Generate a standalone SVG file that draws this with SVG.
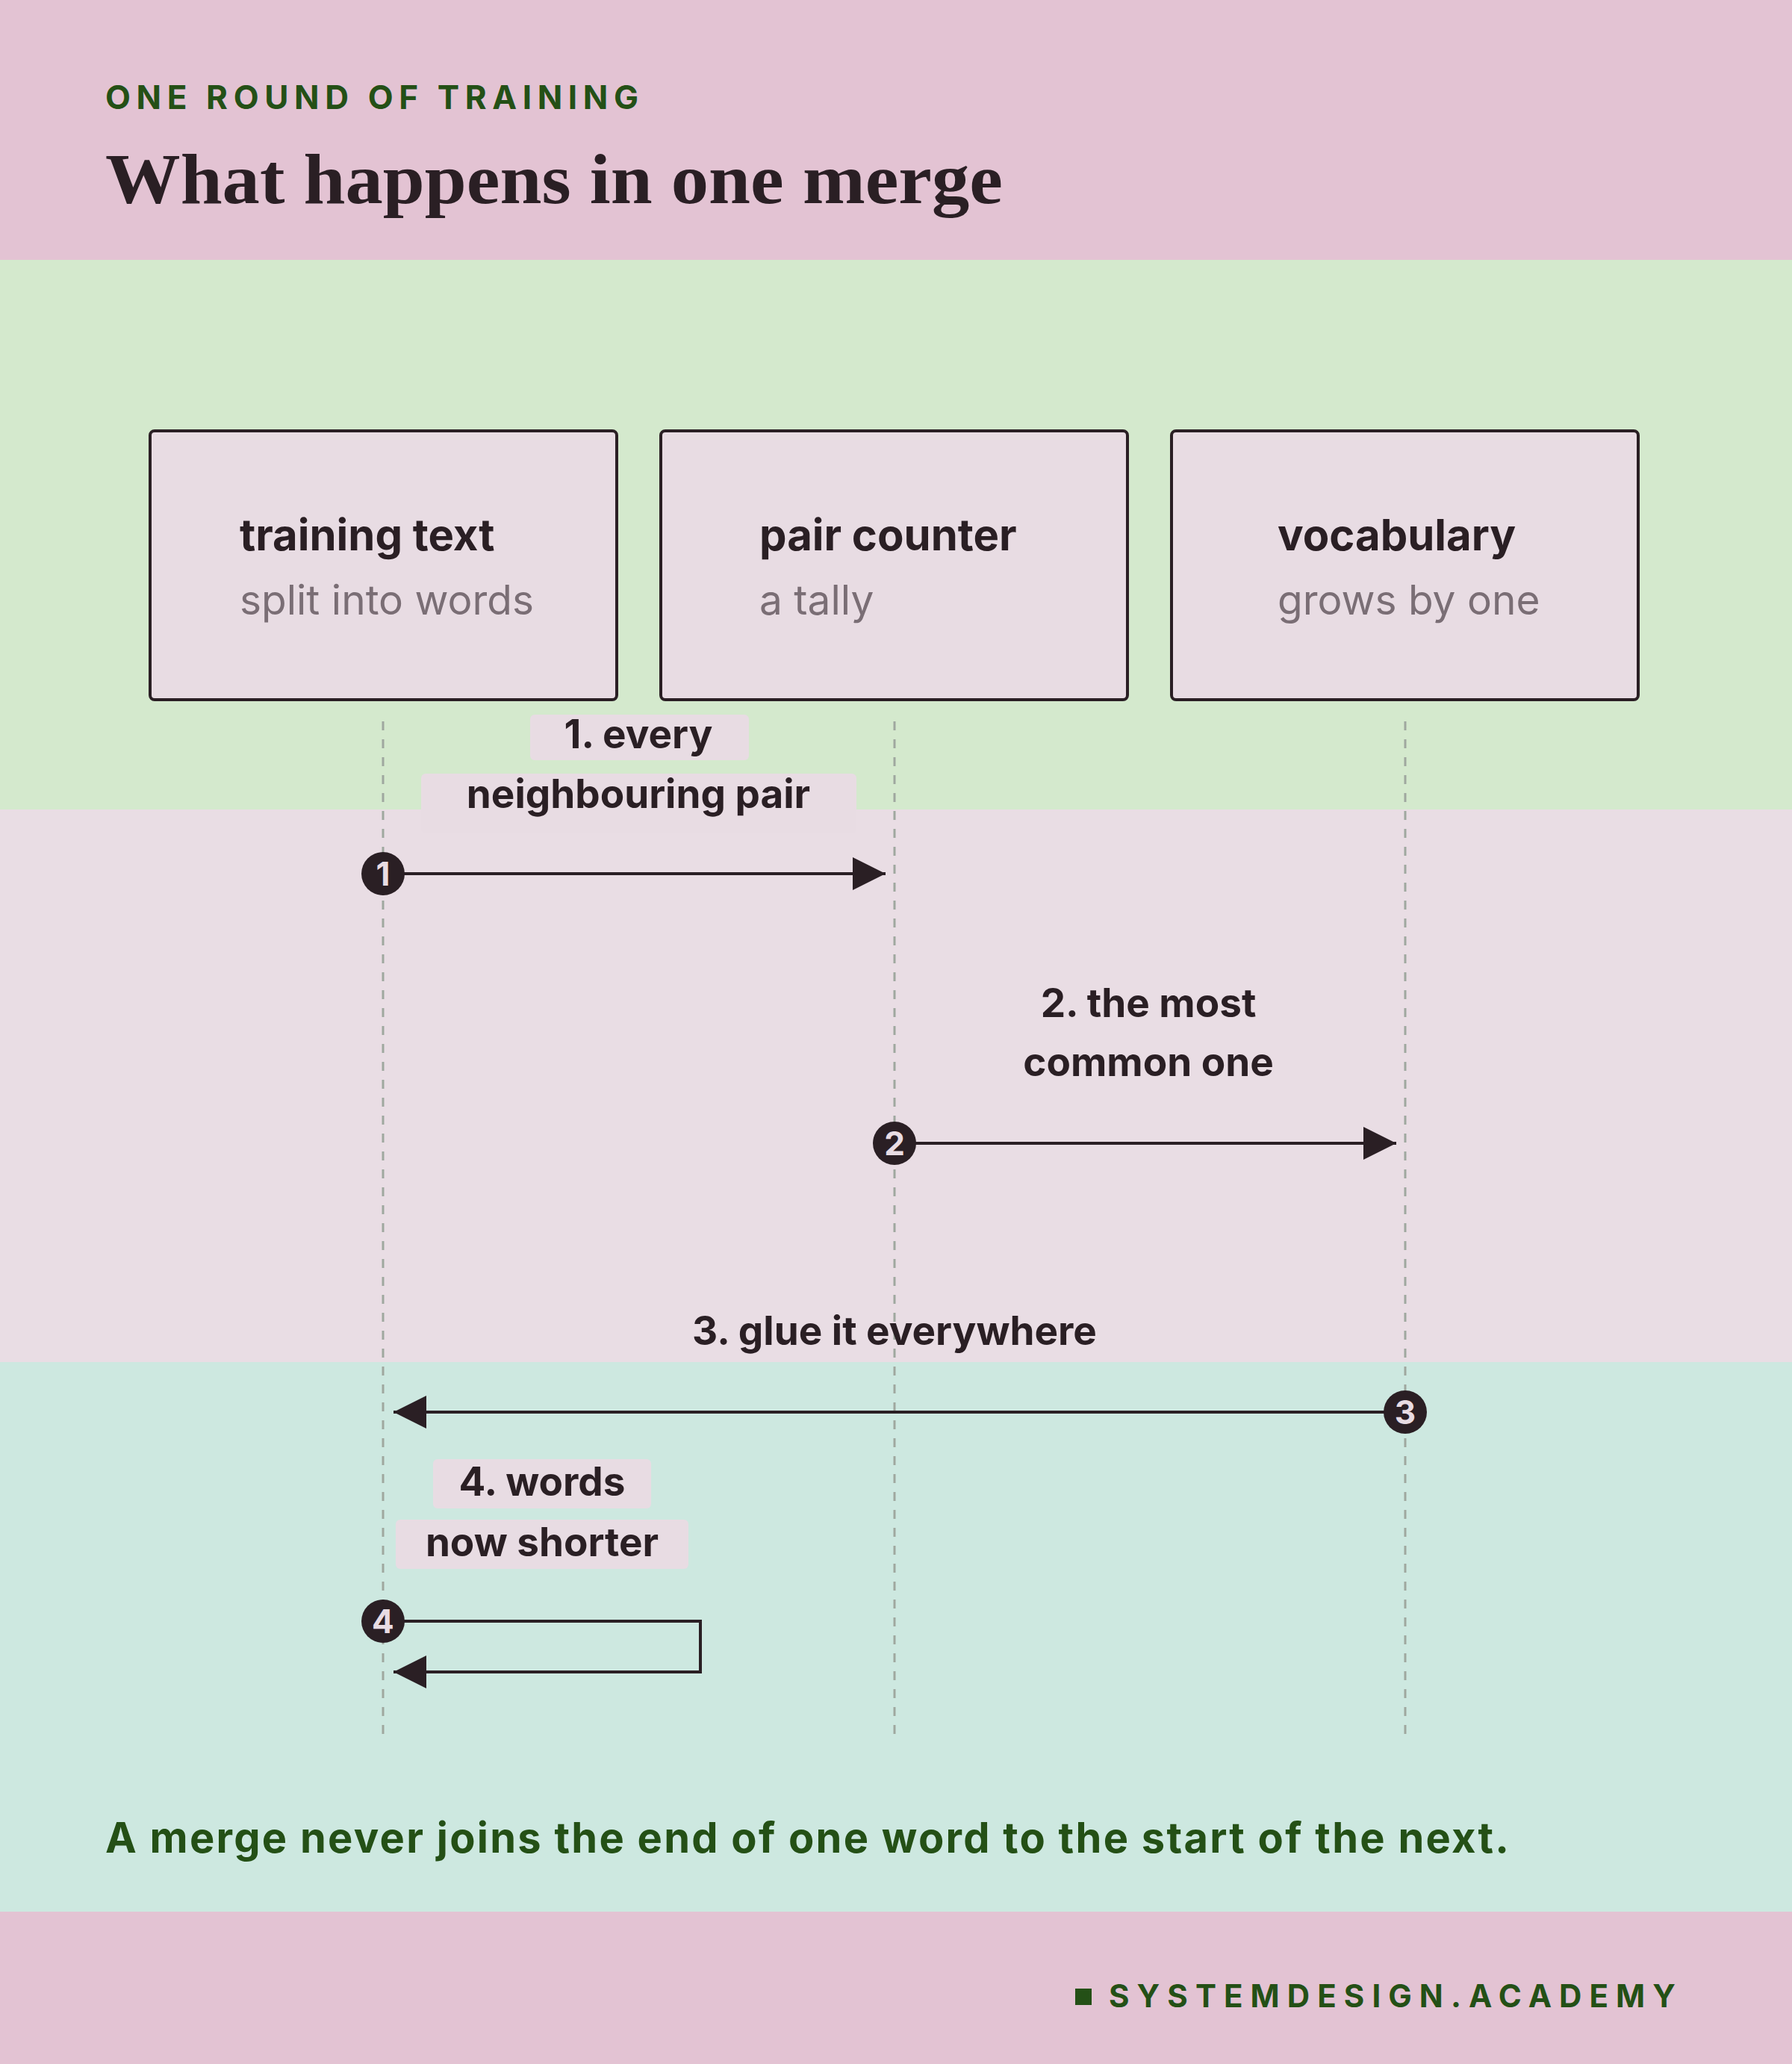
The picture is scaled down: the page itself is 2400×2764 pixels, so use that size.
<svg xmlns="http://www.w3.org/2000/svg" width="2400" height="2764" viewBox="0 0 2400 2764">
<style>
.t{font-family:Inter,"Liberation Sans",sans-serif;fill:#2a1f24}
.nt{font-weight:700;font-size:58px}
.ns{font-size:55px;fill:#7a6e75}
.lb{font-weight:700;font-size:53px;text-anchor:middle}
.box{fill:#e8dce3;stroke:#2a1f24;stroke-width:4}
.life{stroke:#9fa89f;stroke-width:3;stroke-dasharray:12 12;fill:none}
.msg{stroke:#2a1f24;stroke-width:4;fill:none}
.lbg{fill:#e8dce3}
.num{font-family:Inter,"Liberation Sans",sans-serif;font-weight:700;font-size:44px;fill:#e8dce3;text-anchor:middle}
</style>
<defs>
<marker id="ah" viewBox="0 0 10 10" refX="10" refY="5" markerWidth="11" markerHeight="11" markerUnits="userSpaceOnUse" orient="auto">
<path d="M0,0 L10,5 L0,10 z" fill="#2a1f24"/>
</marker>
<marker id="ah2" viewBox="0 0 10 10" refX="10" refY="5" markerWidth="44" markerHeight="44" markerUnits="userSpaceOnUse" orient="auto">
<path d="M0,0 L10,5 L0,10 z" fill="#2a1f24"/>
</marker>
</defs>
<rect x="0" y="0" width="2400" height="348" fill="#e3c3d3"/>
<rect x="0" y="348" width="2400" height="736" fill="#d4e9cd"/>
<rect x="0" y="1084" width="2400" height="740" fill="#e9dde4"/>
<rect x="0" y="1824" width="2400" height="736" fill="#cde8e0"/>
<rect x="0" y="2560" width="2400" height="204" fill="#e3c3d3"/>
<text x="141" y="146" font-family="Inter,'Liberation Sans',sans-serif" font-weight="700" font-size="44" fill="#245016" letter-spacing="6" textLength="720">ONE ROUND OF TRAINING</text>
<text x="141" y="272" font-family="'Liberation Serif',serif" font-weight="700" font-size="96" fill="#2a1f24" textLength="1202" lengthAdjust="spacingAndGlyphs">What happens in one merge</text>
<g id="lifelines">
<line class="life" x1="513" y1="966" x2="513" y2="2330"/>
<line class="life" x1="1198" y1="966" x2="1198" y2="2330"/>
<line class="life" x1="1882" y1="966" x2="1882" y2="2330"/>
</g>
<g id="node-training">
<rect class="box" x="201" y="577" width="625" height="360" rx="6"/>
<text class="t nt" x="321" y="737">training text</text>
<text class="t ns" x="321" y="823">split into words</text>
</g>
<g id="node-counter">
<rect class="box" x="885" y="577" width="625" height="360" rx="6"/>
<text class="t nt" x="1017" y="737">pair counter</text>
<text class="t ns" x="1017" y="823">a tally</text>
</g>
<g id="node-vocab">
<rect class="box" x="1569" y="577" width="625" height="360" rx="6"/>
<text class="t nt" x="1711" y="737">vocabulary</text>
<text class="t ns" x="1711" y="823">grows by one</text>
</g>
<g id="connectors">
<rect class="lbg" x="710" y="957" width="293" height="61" rx="6"/>
<rect class="lbg" x="564" y="1036" width="583" height="80" rx="6"/>
<text class="t lb" x="855" y="1002">1. every</text>
<text class="t lb" x="855" y="1082">neighbouring pair</text>
<line class="msg" x1="513" y1="1170" x2="1186" y2="1170" marker-end="url(#ah2)"/>
<circle cx="513" cy="1170" r="29" fill="#2a1f24"/>
<text class="num" x="513" y="1186">1</text>

<text class="t lb" x="1538" y="1362">2. the most</text>
<text class="t lb" x="1538" y="1441">common one</text>
<line class="msg" x1="1198" y1="1531" x2="1870" y2="1531" marker-end="url(#ah2)"/>
<circle cx="1198" cy="1531" r="29" fill="#2a1f24"/>
<text class="num" x="1198" y="1547">2</text>

<text class="t lb" x="1198" y="1801">3. glue it everywhere</text>
<line class="msg" x1="1882" y1="1891" x2="527" y2="1891" marker-end="url(#ah2)"/>
<circle cx="1882" cy="1891" r="29" fill="#2a1f24"/>
<text class="num" x="1882" y="1907">3</text>

<rect class="lbg" x="580" y="1954" width="292" height="66" rx="6"/>
<rect class="lbg" x="530" y="2035" width="392" height="66" rx="6"/>
<text class="t lb" x="726" y="2003">4. words</text>
<text class="t lb" x="726" y="2084">now shorter</text>
<polyline class="msg" points="513,2171 938,2171 938,2239 527,2239" marker-end="url(#ah2)"/>
<circle cx="513" cy="2171" r="29" fill="#2a1f24"/>
<text class="num" x="513" y="2187">4</text>
</g>
<text x="141" y="2481" font-family="Inter,'Liberation Sans',sans-serif" font-weight="700" font-size="56" fill="#245016" textLength="1880">A merge never joins the end of one word to the start of the next.</text>
<rect x="1440" y="2663" width="22" height="22" fill="#245016"/>
<text x="1485" y="2688" font-family="Inter,'Liberation Sans',sans-serif" font-weight="700" font-size="42" fill="#245016" letter-spacing="8" textLength="767">SYSTEMDESIGN.ACADEMY</text>
</svg>
